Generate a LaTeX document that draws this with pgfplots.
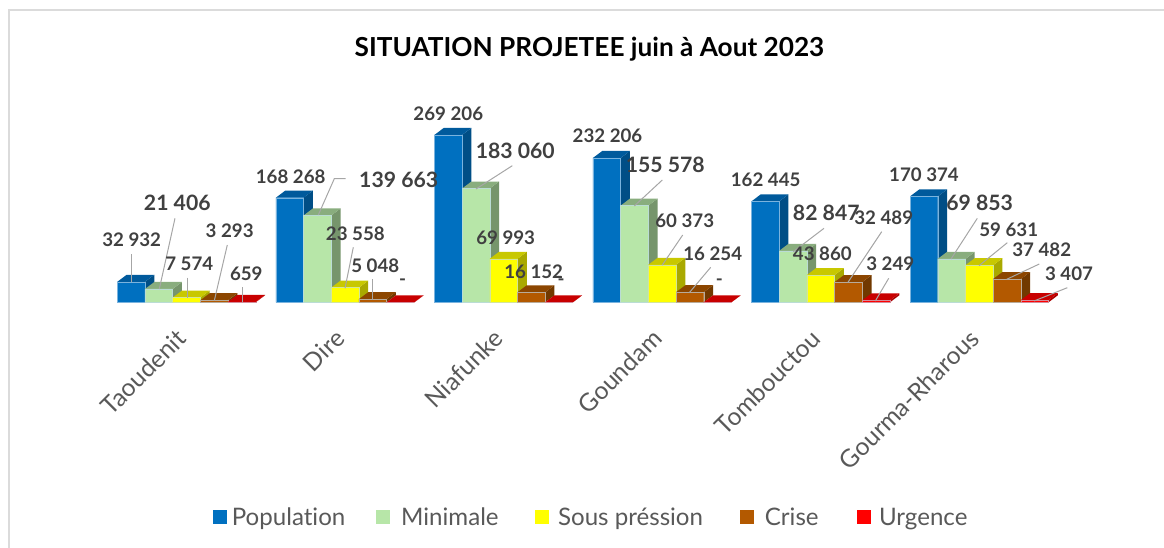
\documentclass[border=0pt]{standalone}
\usepackage{pgfplots}
\usepackage{pgfplotstable}
\usepackage{fontspec}
\setmainfont{Lato}[Ligatures=NoCommon]
\pgfplotsset{compat=1.18}
\definecolor{cPop}{HTML}{0070C0}\definecolor{cPopT}{HTML}{005A9C}\definecolor{cPopS}{HTML}{004E86}
\definecolor{cMin}{HTML}{B7E6A8}\definecolor{cMinT}{HTML}{89AD7E}\definecolor{cMinS}{HTML}{76956C}
\definecolor{cSou}{HTML}{FFFF00}\definecolor{cSouT}{HTML}{C8C800}\definecolor{cSouS}{HTML}{A9A900}
\definecolor{cCri}{HTML}{B35900}\definecolor{cCriT}{HTML}{8C4600}\definecolor{cCriS}{HTML}{713900}
\definecolor{cUrg}{HTML}{FF0000}\definecolor{cUrgT}{HTML}{C80000}\definecolor{cUrgS}{HTML}{A90000}
\definecolor{lab}{HTML}{404040}\definecolor{cat}{HTML}{595959}\definecolor{lead}{HTML}{A6A6A6}
\definecolor{edge}{HTML}{BBD7EE}
\pgfplotstableread{
idx Population Minimale Sous Crise Urgence
0 32932 21406 7574 3293 659
1 168268 139663 23558 5048 0
2 269206 183060 69993 16152 0
3 232206 155578 60373 16254 0
4 162445 82847 43860 32489 3249
5 170374 69853 59631 37482 3407
}\data
\newcommand{\bw}{0.17471}% bar width, in category units
\newcommand{\ddx}{0.0587}% depth in x
\newcommand{\ddy}{11264}% depth in y
% #1 column, #2 bar number, #3 front, #4 top, #5 side
\newcommand{\series}[6]{%
  \pgfplotsforeachungrouped \r in {0,...,5}{%
    \pgfplotstablegetelem{\r}{#1}\of\data
    \edef\v{\pgfplotsretval}%
    \edef\vt{\the\numexpr\v+\ddy\relax}%
    \pgfmathsetmacro\xa{\r+(#2-2.5)*\bw}%
    \pgfmathsetmacro\xb{\xa+\bw}%
    \pgfmathsetmacro\xc{\xb+\ddx}%
    \pgfmathsetmacro\xd{\xa+\ddx}%
    \edef\temp{\noexpand\addplot[forget plot,fill=#5,draw=none] coordinates {(\xb,0) (\xc,\ddy) (\xc,\vt) (\xb,\v)} -- cycle;
      \noexpand\addplot[forget plot,fill=#4,draw=none] coordinates {(\xa,\v) (\xb,\v) (\xc,\vt) (\xd,\vt)} -- cycle;}%
    \temp
  }%
  \addplot[ybar,bar width=27.7pt,bar shift={(#2-2)*27.7pt},fill=#3,draw=#3!35!edge,line width=0.4pt,
     legend image code/.code={\fill[#3] (0pt,-6.5pt) rectangle (13pt,6.5pt);}]
     table[x=idx,y=#1]{\data};
  \addlegendentry{#6}
}
\newcommand{\lbl}[3]{\node[font=\fontsize{18.7}{20}\bfseries\selectfont,text=lab,inner sep=0pt] at (axis cs:#1,#2) {#3};}
\newcommand{\lblb}[3]{\node[font=\fontsize{21.2}{23}\bfseries\selectfont,text=lab,inner sep=0pt] at (axis cs:#1,#2) {#3};}
\begin{document}
\begin{tikzpicture}
\path[use as bounding box] (0,0) rectangle (1164pt,548pt);
\begin{axis}[
  at={(0,0)},anchor=south west,
  scale only axis,width=1164pt,height=548pt,
  xmin=-1.17629,xmax=6.16525,ymin=-395346,ymax=486435,
  clip=false,
  axis x line=middle,axis y line=none,
  x axis line style={draw=none,-},
  xtick={0,1,2,3,4,5},
  xticklabels={Taoudenit,Dire,Niafunke,Goundam,Tombouctou,Gourma-Rharous},
  major tick length=0pt,
  xticklabel style={rotate=45,anchor=east,font=\fontsize{24.7}{26}\selectfont,text=cat,inner sep=0pt,xshift=-26pt,yshift=-19pt},
  legend columns=5,
  legend cell align=left,
  legend style={at={(axis description cs:0.18336,0.0562)},anchor=west,draw=none,fill=none,inner sep=0pt,outer sep=0pt,
    font=\fontsize{24.1}{26}\selectfont,text=cat,
    /tikz/every even column/.append style={column sep=29pt},
    /tikz/every odd column/.append style={column sep=0pt}},
]
\series{Population}{0}{cPop}{cPopT}{cPopS}{\hspace{3pt}Population}
\series{Minimale}{1}{cMin}{cMinT}{cMinS}{\hspace{9.5pt}Minimale\hspace{5pt}\mbox{}}
\series{Sous}{2}{cSou}{cSouT}{cSouS}{\hspace{8pt}Sous préssion\hspace{5.5pt}\mbox{}}
\series{Crise}{3}{cCri}{cCriT}{cCriS}{\hspace{10pt}Crise\hspace{7pt}\mbox{}}
\series{Urgence}{4}{cUrg}{cUrgT}{cUrgS}{\hspace{7pt}Urgence}
\end{axis}
\begin{axis}[
  at={(0,0)},anchor=south west,
  scale only axis,width=1164pt,height=548pt,
  xmin=0,xmax=1164,ymin=0,ymax=548,y dir=reverse,
  hide axis,clip=false,
]
\draw[color=black!14,line width=2pt] (axis cs:8.5,548) -- (axis cs:8.5,10.5) -- (axis cs:1164,10.5);
\node[font=\fontsize{26.2}{28}\bfseries\selectfont,text=black,inner sep=0pt] at (axis cs:589.5,49.5) {SITUATION PROJETEE juin à Aout 2023};
\begin{scope}[color=lead,line width=1pt]
\draw (axis cs:131.7,254.3) -- (axis cs:131.7,282.3);
\draw (axis cs:175,218.3) -- (axis cs:159.3,289);
\draw (axis cs:187,277.7) -- (axis cs:187,298.3);
\draw (axis cs:227.3,245) -- (axis cs:214.3,300.7);
\draw (axis cs:242,287.3) -- (axis cs:242,302.3);
\draw (axis cs:345.7,178.7) -- (axis cs:334.3,178.7) -- (axis cs:318.3,215);
\draw (axis cs:353.3,247.3) -- (axis cs:345,288.3);
\draw (axis cs:372.7,279) -- (axis cs:372.7,300);
\draw (axis cs:512.3,165.7) -- (axis cs:476,189);
\draw (axis cs:662.3,180) -- (axis cs:634.3,206);
\draw (axis cs:682.7,235) -- (axis cs:662.3,265);
\draw (axis cs:710.7,267.3) -- (axis cs:689.3,292.7);
\draw (axis cs:824,228.3) -- (axis cs:793.3,251.7);
\draw (axis cs:881.7,231.7) -- (axis cs:847.7,282.7);
\draw (axis cs:888.7,278.3) -- (axis cs:875.3,301);
\draw (axis cs:977.3,218.3) -- (axis cs:951,259);
\draw (axis cs:1007.3,242.7) -- (axis cs:979,265.7);
\draw (axis cs:1039.3,264) -- (axis cs:1006.7,279.3);
\draw (axis cs:1067.3,287.7) -- (axis cs:1034,301);
\end{scope}
\lbl{131.7}{240}{32 932}
\lblb{177.3}{203.3}{21 406}
\lbl{189.3}{264}{7 574}
\lbl{229.7}{231}{3 293}
\lbl{246.3}{273.3}{659}
\lbl{290.7}{176.7}{168 268}
\lblb{398.7}{180}{139 663}
\lbl{355.3}{234}{23 558}
\lbl{375.3}{265.7}{5 048}
\lbl{402.7}{281.7}{-}
\lbl{448.3}{114}{269 206}
\lblb{515.3}{150.7}{183 060}
\lbl{505.7}{237.3}{69 993}
\lbl{533.7}{271.7}{16 152}
\lbl{561}{281.7}{-}
\lbl{607.5}{136}{232 206}
\lblb{665.3}{165}{155 578}
\lbl{684.7}{220.7}{60 373}
\lbl{712.7}{253.3}{16 254}
\lbl{719.3}{281.7}{-}
\lbl{765.7}{180}{162 445}
\lblb{826.3}{212.7}{82 847}
\lbl{822.3}{254}{43 860}
\lbl{883.7}{217.3}{32 489}
\lbl{890.3}{264}{3 249}
\lbl{924}{175}{170 374}
\lblb{979.7}{202.7}{69 853}
\lbl{1008.7}{229.3}{59 631}
\lbl{1041.7}{250}{37 482}
\lbl{1069}{274}{3 407}
\end{axis}
\end{tikzpicture}
\end{document}
